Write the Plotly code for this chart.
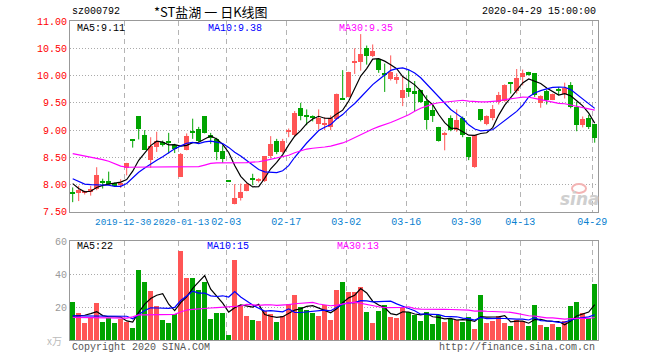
import plotly.graph_objects as go

# ---------------- data ----------------
dates = [
    "2019-12-17", "2019-12-18", "2019-12-19", "2019-12-20", "2019-12-23", "2019-12-24",
    "2019-12-25", "2019-12-26", "2019-12-27", "2019-12-30", "2019-12-31",
    "2020-01-02", "2020-01-03", "2020-01-06", "2020-01-07", "2020-01-08", "2020-01-09",
    "2020-01-10", "2020-01-13", "2020-01-14", "2020-01-15", "2020-01-16", "2020-01-17",
    "2020-01-20", "2020-01-21", "2020-01-22",
    "2020-02-03", "2020-02-04", "2020-02-05", "2020-02-06", "2020-02-07",
    "2020-02-10", "2020-02-11", "2020-02-12", "2020-02-13", "2020-02-14",
    "2020-02-17", "2020-02-18", "2020-02-19", "2020-02-20", "2020-02-21",
    "2020-02-24", "2020-02-25", "2020-02-26", "2020-02-27", "2020-02-28",
    "2020-03-02", "2020-03-03", "2020-03-04", "2020-03-05", "2020-03-06",
    "2020-03-09", "2020-03-10", "2020-03-11", "2020-03-12", "2020-03-13",
    "2020-03-16", "2020-03-17", "2020-03-18", "2020-03-19", "2020-03-20",
    "2020-03-23", "2020-03-24", "2020-03-25", "2020-03-26", "2020-03-27",
    "2020-03-30", "2020-03-31", "2020-04-01", "2020-04-02", "2020-04-03",
    "2020-04-07", "2020-04-08", "2020-04-09", "2020-04-10",
    "2020-04-13", "2020-04-14", "2020-04-15", "2020-04-16", "2020-04-17",
    "2020-04-20", "2020-04-21", "2020-04-22", "2020-04-23", "2020-04-24",
    "2020-04-27", "2020-04-28", "2020-04-29",
]

opens = [
    7.85, 7.85, 7.86, 7.87, 7.93, 8.05, 8.06, 8.04, 8.01, 8.31,
    8.82, 9.25, 8.91, 8.46, 8.69, 8.78, 8.78, 8.73, 8.15, 8.64,
    8.97, 9.02, 9.25, 8.92, 8.84, 8.61, 8.06, 7.65, 7.76, 7.88,
    8.10, 8.07, 8.07, 8.52, 8.81, 8.60, 8.97, 8.91, 9.41, 9.26,
    9.24, 9.11, 9.09, 9.06, 9.21, 9.58, 9.61, 10.24, 10.25, 10.51,
    10.35, 10.31, 10.03, 9.93, 9.91, 9.58, 9.77, 9.71, 9.73, 9.54,
    9.36, 9.05, 8.92, 9.23, 9.00, 9.23, 8.87, 8.32, 9.38, 9.11,
    9.23, 9.52, 9.54, 9.87, 9.71, 9.98, 10.07, 10.04, 9.49, 9.71,
    9.55, 9.73, 9.67, 9.82, 9.43, 9.09, 9.23, 9.11,
]
closes = [
    7.84, 7.91, 7.89, 7.93, 8.17, 8.04, 8.02, 7.98, 8.03, 8.40,
    8.81, 9.02, 8.64, 8.71, 8.81, 8.72, 8.77, 8.66, 8.57, 8.89,
    8.96, 8.81, 8.95, 8.86, 8.60, 8.48, 8.06, 7.76, 7.87, 8.02,
    8.09, 8.09, 8.52, 8.74, 8.60, 8.81, 8.98, 9.31, 9.25, 9.25,
    9.23, 9.23, 9.13, 9.23, 9.67, 9.57, 10.07, 10.25, 10.39, 10.35,
    10.45, 10.11, 10.02, 10.07, 9.98, 9.73, 9.70, 9.67, 9.52, 9.19,
    9.25, 8.80, 8.93, 9.01, 9.18, 8.92, 8.50, 8.91, 9.18, 9.25,
    9.39, 9.65, 9.82, 9.86, 9.96, 10.04, 10.01, 9.64, 9.63, 9.55,
    9.67, 9.72, 9.78, 9.43, 9.09, 9.21, 9.05, 8.86,
]
highs = [
    7.95, 7.98, 7.89, 7.98, 8.32, 8.11, 8.24, 8.04, 8.10, 8.40,
    8.82, 9.25, 9.00, 8.87, 8.97, 8.81, 8.95, 8.75, 8.58, 8.94,
    9.21, 9.06, 9.25, 8.95, 8.86, 8.72, 8.06, 8.01, 8.02, 8.03,
    8.20, 8.12, 8.52, 8.89, 8.84, 8.84, 9.03, 9.35, 9.50, 9.38,
    9.27, 9.38, 9.24, 9.27, 9.67, 10.10, 10.07, 10.50, 10.76, 10.55,
    10.57, 10.31, 10.22, 10.37, 10.04, 9.98, 10.10, 9.90, 9.74, 9.64,
    9.46, 9.06, 8.97, 9.27, 9.38, 9.25, 8.87, 8.91, 9.38, 9.27,
    9.46, 9.70, 9.84, 9.87, 10.12, 10.11, 10.07, 10.04, 9.64, 9.74,
    9.67, 9.79, 9.87, 9.88, 9.52, 9.25, 9.28, 9.11,
]
lows = [
    7.68, 7.70, 7.82, 7.80, 7.90, 7.93, 7.99, 7.96, 7.94, 8.17,
    8.68, 8.83, 8.64, 8.31, 8.60, 8.70, 8.57, 8.58, 8.14, 8.63,
    8.84, 8.78, 8.94, 8.75, 8.45, 8.40, 8.06, 7.64, 7.71, 7.88,
    7.99, 8.04, 8.05, 8.48, 8.56, 8.58, 8.87, 8.89, 9.18, 9.09,
    9.16, 9.01, 9.00, 9.00, 9.19, 9.57, 9.60, 10.03, 10.09, 10.20,
    10.34, 10.05, 9.70, 9.91, 9.85, 9.44, 9.61, 9.35, 9.50, 9.01,
    9.15, 8.79, 8.63, 8.98, 8.97, 8.87, 8.45, 8.31, 9.16, 9.09,
    9.18, 9.47, 9.52, 9.67, 9.67, 9.82, 10.00, 9.61, 9.41, 9.47,
    9.55, 9.64, 9.58, 9.40, 8.98, 9.05, 9.02, 8.77,
]
volumes = [
    23.2, 16.6, 10.3, 13.3, 22.6, 11.1, 13.1, 10.3, 12.5, 10.9,
    7.5, 42.4, 35.4, 29.7, 20.6, 12.3, 10.5, 16.0, 54.1, 37.8,
    37.8, 30.3, 35.4, 12.9, 16.6, 16.6, 3.2, 48.5, 21.2, 14.5,
    12.3, 11.5, 17.6, 16.0, 11.1, 14.5, 21.8, 27.3, 20.0, 18.4,
    16.6, 14.5, 21.0, 12.1, 30.3, 35.2, 29.1, 29.1, 32.1, 17.0,
    10.3, 17.6, 21.2, 13.9, 13.3, 19.4, 17.0, 15.2, 11.5, 17.0,
    9.7, 15.2, 10.9, 12.7, 12.1, 10.9, 13.9, 6.7, 27.3, 10.3,
    11.5, 14.5, 10.3, 8.5, 12.1, 11.5, 8.5, 21.2, 9.1, 7.9,
    9.7, 7.9, 11.5, 20.6, 23.0, 16.4, 13.3, 34.0,
]

# moving-average values before enough history exists
ma5_head = [8.02, 7.93, 7.87, 7.88]
ma10_head = [8.11, 8.06, 8.01, 8.00, 8.00, 8.00, 7.99, 7.97, 7.97]
ma30_head = [8.57, 8.55, 8.53, 8.51, 8.49, 8.46, 8.43, 8.39, 8.34, 8.32,
             8.32, 8.32, 8.32, 8.32, 8.32, 8.32, 8.32, 8.32, 8.32, 8.32,
             8.32, 8.33, 8.36, 8.39, 8.40, 8.40, 8.40, 8.40, 8.40]
vma5_head = [14.5, 14.6, 15.0, 16.0]
vma10_head = [14.6, 14.6, 14.5, 14.5, 14.5, 14.5, 14.5, 14.5, 14.5]
vma30_head = [13.7, 13.7, 13.7, 13.7, 13.7, 13.7, 13.6, 13.5, 13.4, 13.3,
              14.0, 15.2, 15.2, 15.2, 15.2, 15.2, 15.2, 15.5, 17.0, 18.2,
              18.6, 19.0, 19.2, 19.4, 19.6, 19.8, 20.0, 20.3, 20.6]

tick_dates = ["2019-12-30", "2020-01-13", "2020-02-03", "2020-02-17", "2020-03-02",
              "2020-03-16", "2020-03-30", "2020-04-13", "2020-04-29"]
tick_labels = ["2019-12-30", "2020-01-13", "02-03", "02-17", "03-02",
               "03-16", "03-30", "04-13", "04-29"]
price_ticks = [7.5, 8.0, 8.5, 9.0, 9.5, 10.0, 10.5, 11.0]
vol_ticks = [20, 40, 60]

# ---------------- derived ----------------
def moving_avg(vals, n, head):
    out = list(head)
    for i in range(len(head), len(vals)):
        out.append(sum(vals[i - n + 1:i + 1]) / n)
    return out

idx = list(range(len(dates)))
RED, GREEN = "#ff5555", "#00a400"
colors = []
for i in idx:
    o, c = opens[i], closes[i]
    if c > o:
        up = True
    elif c < o:
        up = False
    else:
        up = i == 0 or c >= closes[i - 1]
    colors.append(RED if up else GREEN)

body_base = [min(o, c) for o, c in zip(opens, closes)]
body_h = [max(abs(c - o), 0.02) for o, c in zip(opens, closes)]

MONO = "Liberation Mono"
fig = go.Figure()

# wicks
for col in (RED, GREEN):
    wx, wy = [], []
    for i in idx:
        if colors[i] == col:
            wx += [i, i, None]
            wy += [lows[i], highs[i], None]
    fig.add_trace(go.Scatter(x=wx, y=wy, mode="lines", line=dict(color=col, width=1),
                             hoverinfo="skip", xaxis="x", yaxis="y"))

# bodies
fig.add_trace(go.Bar(x=idx, y=body_h, base=body_base, width=0.8,
                     marker=dict(color=colors, line=dict(width=0)), xaxis="x", yaxis="y"))

# price MAs
for vals, n, head, col in ((closes, 5, ma5_head, "black"),
                           (closes, 10, ma10_head, "#0000ff"),
                           (closes, 30, ma30_head, "#ff00ff")):
    fig.add_trace(go.Scatter(x=idx, y=moving_avg(vals, n, head), mode="lines",
                             line=dict(color=col, width=1.2), xaxis="x", yaxis="y"))

# volume bars
fig.add_trace(go.Bar(x=idx, y=volumes, width=0.8,
                     marker=dict(color=colors, line=dict(width=0)), xaxis="x2", yaxis="y2"))
for vals, n, head, col in ((volumes, 5, vma5_head, "black"),
                           (volumes, 10, vma10_head, "#0000ff"),
                           (volumes, 30, vma30_head, "#ff00ff")):
    fig.add_trace(go.Scatter(x=idx, y=moving_avg(vals, n, head), mode="lines",
                             line=dict(color=col, width=1.2), xaxis="x2", yaxis="y2"))

grid_x = [dates.index(d) - 0.4 for d in tick_dates]
# the two long labels collide; they are drawn as annotations slightly smaller
long_labels = (0, 1)
shown_text = [("" if k in long_labels else t) for k, t in enumerate(tick_labels)]

xcommon = dict(range=[-0.45, len(dates) - 0.45], tickvals=grid_x, showgrid=True,
               gridcolor="#b4b4b4", griddash="5px,4px", gridwidth=1, showline=True,
               mirror=True, linecolor="#999999", linewidth=1, ticks="", zeroline=False,
               automargin=False, tickangle=0)
ycommon = dict(showgrid=True, gridcolor="#aaaaaa", griddash="1px,2px", gridwidth=1,
               showline=True, mirror=True, linecolor="#999999", linewidth=1,
               ticks="", zeroline=False, automargin=False)

XFONT = dict(family=MONO, size=10, color="#0a7fd0")
fig.update_layout(
    width=660, height=360,
    margin=dict(l=70, r=62, t=21, b=20, pad=0, autoexpand=False),
    paper_bgcolor="white", plot_bgcolor="white",
    showlegend=False, barmode="overlay", bargap=0,
    xaxis=dict(**xcommon, anchor="y", domain=[0, 1], ticktext=shown_text, tickfont=XFONT),
    yaxis=dict(**ycommon, domain=[0.4013, 1], range=[7.5, 11.0], tickvals=price_ticks,
               ticktext=["%.2f" % v for v in price_ticks],
               tickfont=dict(family=MONO, size=10, color="#ff0000")),
    xaxis2=dict(**xcommon, anchor="y2", domain=[0, 1], matches="x", showticklabels=False),
    yaxis2=dict(**ycommon, domain=[0, 0.3103], range=[0, 60], tickvals=vol_ticks,
                ticktext=[str(v) for v in vol_ticks],
                tickfont=dict(family=MONO, size=10, color="#999999")),
)

def px_x(px):
    return (px - 70) / 528.0

def px_y(py):
    return (340 - py) / 319.0

def note(text, x, y, color, size=10, anchor="left", family=MONO, **kw):
    fig.add_annotation(text=text, xref="paper", yref="paper", x=px_x(x), y=px_y(y),
                       xanchor=anchor, yanchor="middle", showarrow=False,
                       font=dict(family=family, size=size, color=color), **kw)

for k, shift in zip(long_labels, (-1, 3)):
    fig.add_annotation(text=tick_labels[k], xref="x", yref="paper", x=grid_x[k],
                       y=px_y(222), xanchor="center", yanchor="middle", xshift=shift,
                       showarrow=False, font=dict(family=MONO, size=9.4, color="#0a7fd0"))

note("sz000792", 70, 12, "#000000")
note("*ST盐湖 一 日K线图", 152, 12, "#000000", size=13, family="Noto Sans CJK SC")
note("2020-04-29 15:00:00", 598, 12, "#000000", anchor="right")
note("MA5:9.11", 75, 28, "#000000")
note("MA10:9.38", 206, 28, "#0000ff")
note("MA30:9.35", 337, 28, "#ff00ff")
note("MA5:22", 75, 246, "#000000")
note("MA10:15", 205, 246, "#0000ff")
note("MA30:13", 335, 246, "#ff00ff")
note("x万", 64, 340, "#bbbbbb", anchor="right", family="Noto Sans CJK SC")
note("Copyright 2020 SINA.COM", 70, 347, "#555555")
note("http://finance.sina.com.cn", 597, 347, "#555555", anchor="right")
fig.add_annotation(text="<b><i>sina</i></b>", xref="paper", yref="paper",
                   x=px_x(580), y=px_y(199), xanchor="center", yanchor="middle",
                   showarrow=False, font=dict(family="DejaVu Sans", size=17, color="#cfcfcf"))
fig.add_shape(type="circle", xref="paper", yref="paper",
              x0=px_x(572), x1=px_x(586), y0=px_y(193), y1=px_y(184),
              line=dict(color="#f3b4b4", width=2))

fig.write_html("out.html", config={"displayModeBar": False},
               post_script="document.body.style.margin='0';document.body.style.padding='0';")
